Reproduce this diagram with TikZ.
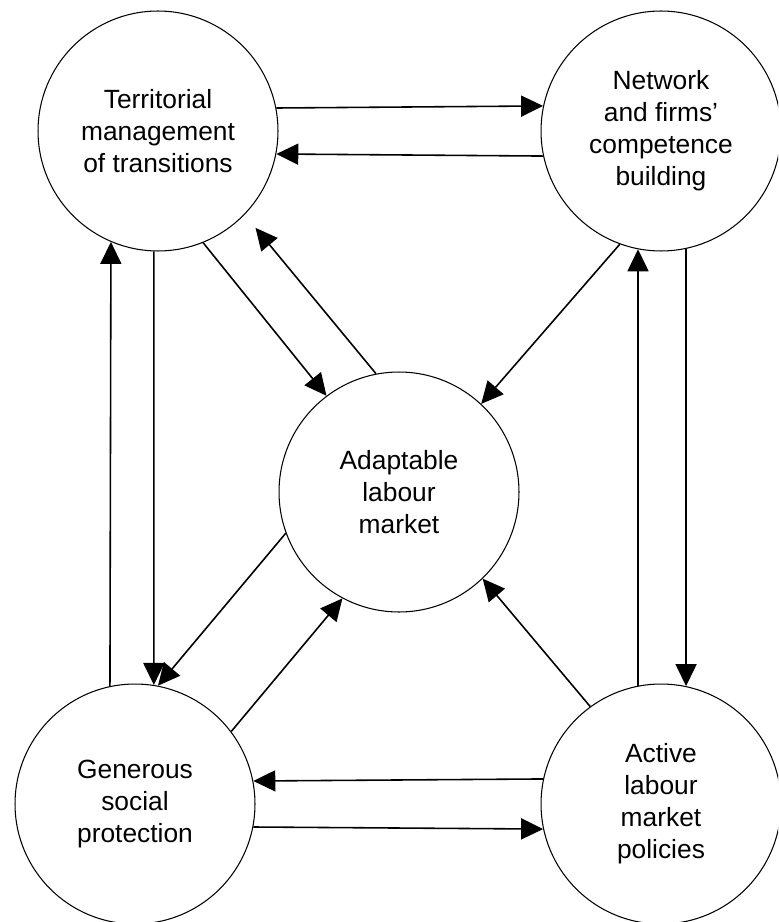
\documentclass[tikz,border=0pt]{standalone}
\usepackage{fontspec}
\setmainfont{Liberation Sans}
\usetikzlibrary{arrows.meta}

\begin{document}
\begin{tikzpicture}[x=0.02cm,y=-0.02cm,
    unit/.style={circle,draw,line width=0.6pt,minimum size=4.8cm,inner sep=0pt,
      align=center,font=\fontsize{15}{18.2}\selectfont},
    link/.style={line width=0.9pt,-{Triangle[length=0.44cm,width=0.42cm]}}]
        \clip (0,0) rectangle (778,922);
        \node[unit] (tl) at (158,131) {Territorial\\management\\of transitions};
        \node[unit] (tr) at (661,131) {Network\\and firms’\\competence\\building};
        \node[unit] (c) at (399,492) {Adaptable\\labour\\market};
        \node[unit] (bl) at (135,804) {Generous\\social\\protection};
        \node[unit] (br) at (661,804) {Active\\labour\\market\\policies};
        \draw[link] (tl.11.5) -- (tr.168.5);
        \draw[link] (tr.-168.5) -- (tl.-11.5);
        \draw[link] (tl.-68.6) -- (c.127);
        \draw[link,shorten >=0.34cm] (c.101.7) -- (tl.-44.3);
        \draw[link] (tl.-92.4) -- (bl.81.4);
        \draw[link] (bl.102) -- (tl.-113.6);
        \draw[link] (tr.-110.2) -- (c.47);
        \draw[link] (br.101.5) -- (tr.-101.5);
        \draw[link] (tr.-78.5) -- (br.78.5);
        \draw[link] (c.-160.5) -- (bl.79.2);
        \draw[link] (bl.37.7) -- (c.-118);
        \draw[link] (br.126.1) -- (c.-46);
        \draw[link] (br.168.5) -- (bl.11.5);
        \draw[link] (bl.-11.5) -- (br.-168.5);
\end{tikzpicture}
\end{document}
